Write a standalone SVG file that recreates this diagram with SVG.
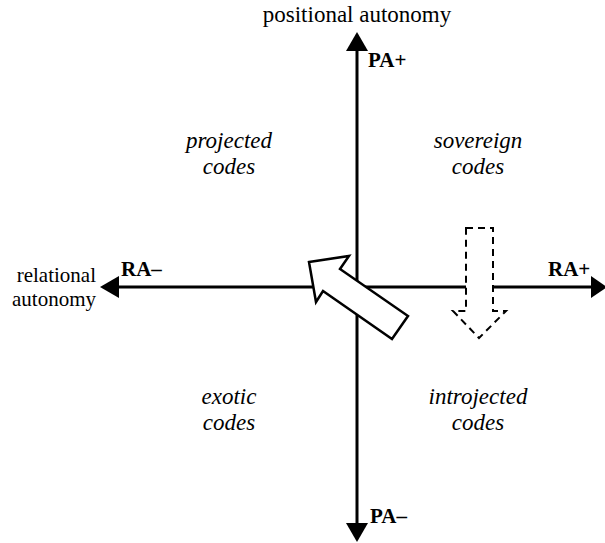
<svg xmlns="http://www.w3.org/2000/svg" width="605" height="543" viewBox="0 0 605 543">
<style>
.ax{stroke:#000;stroke-width:3;fill:none}
.hd{fill:#000}
text{font-family:'Liberation Serif','Times New Roman','DejaVu Serif',serif;fill:#000}
.lbl{font-size:23px}
.lft{font-size:21px;text-anchor:end}
.it{font-size:23px;font-style:italic;text-anchor:middle}
.b{font-size:21px;font-weight:bold}
</style>
<rect width="605" height="543" fill="#fff"/>
<g id="connectors">
<line class="ax" x1="357" y1="48" x2="357" y2="526"/>
<polygon class="hd" points="357,32 346,51 368,51"/>
<polygon class="hd" points="357,542 346,523 368,523"/>
<line class="ax" x1="116" y1="287" x2="592" y2="287"/>
<polygon class="hd" points="100,287 119,276 119,298"/>
<polygon class="hd" points="607,287 591,276 591,298"/>
</g>
<g id="arrow-solid">
<polygon points="309,262 349,256 340,269 408,316 392,339 323,291 316,302" fill="#fff" stroke="#000" stroke-width="2.5" stroke-linejoin="miter"/>
</g>
<g id="arrow-dashed">
<polygon points="466,228 493,228 493,311 506,311 479,338 453,311 466,311" fill="#fff" stroke="#000" stroke-width="2" stroke-dasharray="7,5"/>
</g>
<g id="title-top"><text class="lbl" x="357" y="22" text-anchor="middle">positional autonomy</text></g>
<g id="pa-plus"><text class="b" x="368" y="67">PA+</text></g>
<g id="pa-minus"><text class="b" x="370" y="523">PA–</text></g>
<g id="ra-minus"><text class="b" x="121" y="276">RA–</text></g>
<g id="ra-plus"><text class="b" x="548" y="276">RA+</text></g>
<g id="title-left"><text class="lft" x="96" y="282">relational</text><text class="lft" x="96" y="306">autonomy</text></g>
<g id="projected"><text class="it" x="229" y="148">projected</text><text class="it" x="229" y="174">codes</text></g>
<g id="sovereign"><text class="it" x="478" y="148">sovereign</text><text class="it" x="478" y="174">codes</text></g>
<g id="exotic"><text class="it" x="229" y="404">exotic</text><text class="it" x="229" y="430">codes</text></g>
<g id="introjected"><text class="it" x="478" y="404">introjected</text><text class="it" x="478" y="430">codes</text></g>
</svg>
